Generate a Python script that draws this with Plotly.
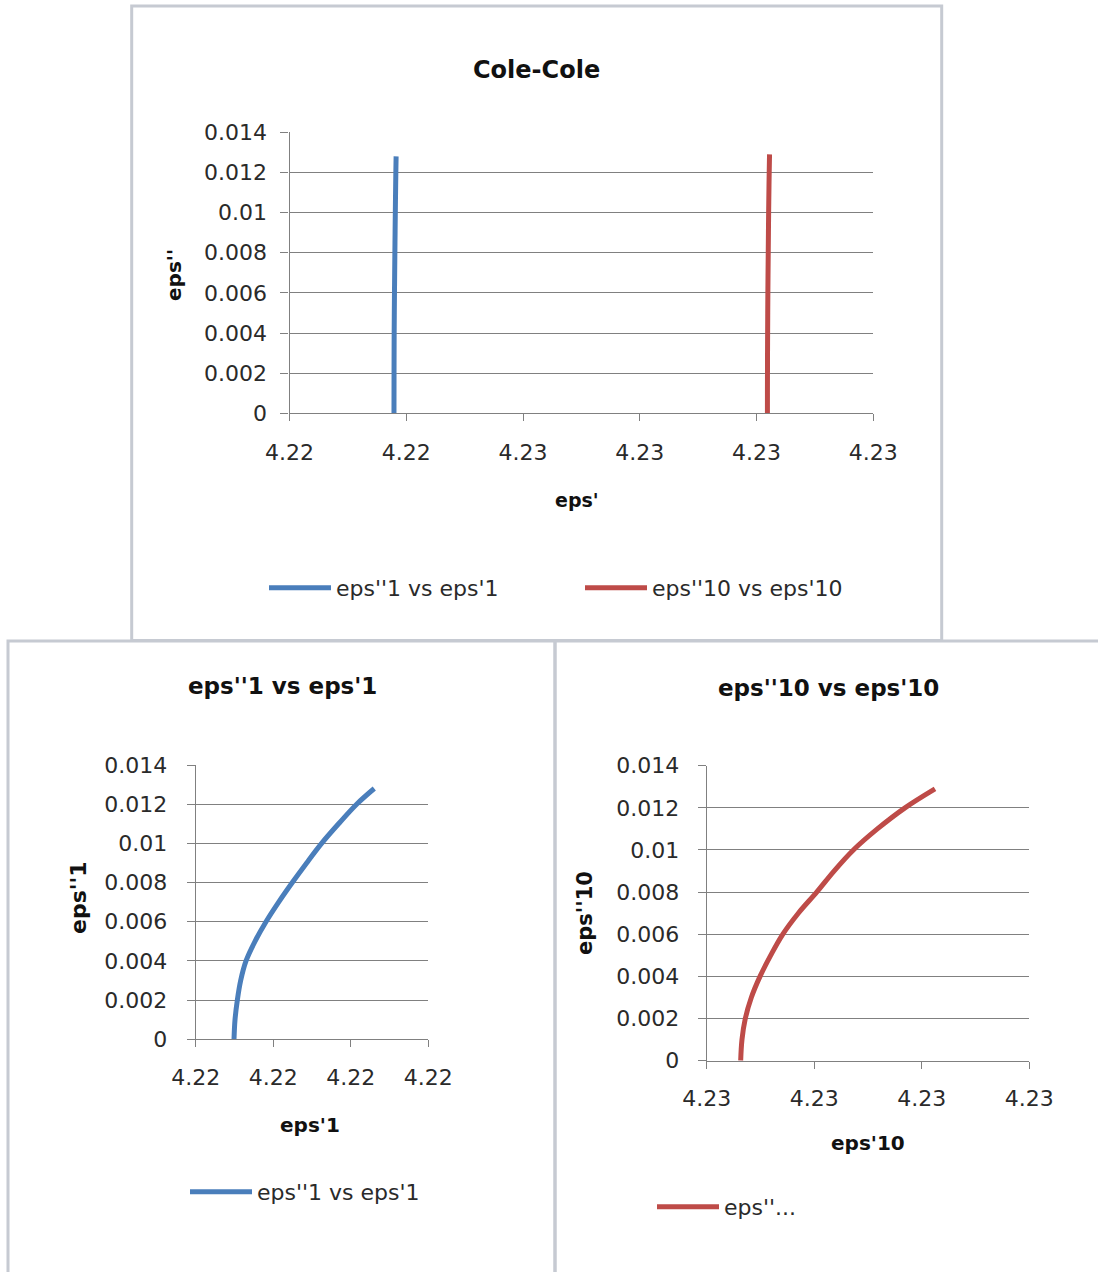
import plotly.graph_objects as go

W, H = 1098, 1272

# ---------------- data ----------------
eps1_re = [4.22389494, 4.22389507, 4.22389537, 4.22389580, 4.22389649, 4.22389765,
           4.22389907, 4.22390070, 4.22390246, 4.22390431, 4.22390624, 4.22390843,
           4.22391076, 4.22391303]
eps1_im = [0.0, 0.001, 0.002, 0.003, 0.004, 0.005, 0.006, 0.007, 0.008, 0.009,
           0.010, 0.011, 0.012, 0.0128]

eps10_re = [4.22709316, 4.22709328, 4.22709359, 4.22709415, 4.22709496, 4.22709595,
            4.22709707, 4.22709852, 4.22710023, 4.22710184, 4.22710364, 4.22710587,
            4.22710844, 4.22711123]
eps10_im = [0.0, 0.001, 0.002, 0.003, 0.004, 0.005, 0.006, 0.007, 0.008, 0.009,
            0.010, 0.011, 0.012, 0.0129]

top_x_ticks = [4.223, 4.224, 4.225, 4.226, 4.227, 4.228]
top_x_labels = ["4.22", "4.22", "4.23", "4.23", "4.23", "4.23"]
bl_x_ticks = [4.22389, 4.22390, 4.22391, 4.22392]
bl_x_labels = ["4.22", "4.22", "4.22", "4.22"]
br_x_ticks = [4.22709, 4.22710, 4.22711, 4.22712]
br_x_labels = ["4.23", "4.23", "4.23", "4.23"]
y_ticks = [0, 0.002, 0.004, 0.006, 0.008, 0.010, 0.012, 0.014]
y_labels = ["0", "0.002", "0.004", "0.006", "0.008", "0.01", "0.012", "0.014"]

name1 = "eps''1 vs eps'1"
name10 = "eps''10 vs eps'10"
name10_short = "eps''..."

# ---------------- style ----------------
BLUE = "#4A7EBB"
RED = "#BE4B48"
GRID = "#808080"
BORDER = "#C6CAD2"
TXT = "#2a2a2a"
FONT = "DejaVu Sans"
TICK_SIZE = 22
LEG_SIZE = 22


def fx(px):
    return px / W


def fy(py):
    return 1 - py / H


fig = go.Figure()

fig.add_trace(go.Scatter(x=eps1_re, y=eps1_im, mode="lines", name=name1,
                         line=dict(color=BLUE, width=5, shape="spline"),
                         xaxis="x", yaxis="y", legend="legend"))
fig.add_trace(go.Scatter(x=eps10_re, y=eps10_im, mode="lines", name=name10,
                         line=dict(color=RED, width=5, shape="spline"),
                         xaxis="x", yaxis="y", legend="legend4"))
fig.add_trace(go.Scatter(x=eps1_re, y=eps1_im, mode="lines", name=name1,
                         line=dict(color=BLUE, width=5, shape="spline"),
                         xaxis="x2", yaxis="y2", legend="legend2"))
fig.add_trace(go.Scatter(x=eps10_re, y=eps10_im, mode="lines", name=name10_short,
                         line=dict(color=RED, width=5, shape="spline"),
                         xaxis="x3", yaxis="y3", legend="legend3"))


def xax(domain, rng, tv, tt, anchor, standoff):
    return dict(domain=domain, range=rng, tickvals=tv, ticktext=tt, anchor=anchor,
                showgrid=False, zeroline=False, showline=True, linecolor=GRID, linewidth=1.3,
                ticks="outside", ticklen=7, tickcolor=GRID, tickwidth=1.3,
                ticklabelstandoff=standoff, automargin=False,
                tickfont=dict(family=FONT, size=TICK_SIZE, color=TXT),
                fixedrange=True)


def yax(domain, anchor, standoff):
    return dict(domain=domain, range=[0, 0.014], tickvals=y_ticks, ticktext=y_labels,
                anchor=anchor, showgrid=True, gridcolor=GRID, gridwidth=1.3,
                zeroline=False, showline=True, linecolor=GRID, linewidth=1.3,
                ticks="outside", ticklen=8, tickcolor=GRID, tickwidth=1.3,
                ticklabelstandoff=standoff, automargin=False,
                tickfont=dict(family=FONT, size=TICK_SIZE, color=TXT), fixedrange=True)


fig.update_layout(
    xaxis=xax([fx(289.5), fx(873.3)], [4.223, 4.228], top_x_ticks, top_x_labels, "y", 12),
    yaxis=yax([fy(413.3), fy(132.3)], "x", 9),
    xaxis2=xax([fx(195.7), fx(428.3)], [4.22389, 4.22392], bl_x_ticks, bl_x_labels, "y2", 11),
    yaxis2=yax([fy(1039.3), fy(765)], "x2", 15),
    xaxis3=xax([fx(706.7), fx(1029.3)], [4.22709, 4.22712], br_x_ticks, br_x_labels, "y3", 11),
    yaxis3=yax([fy(1060.7), fy(765.7)], "x3", 14),
)

legend_common = dict(orientation="h", xanchor="left", yanchor="middle", itemwidth=62,
                     bgcolor="rgba(0,0,0,0)", borderwidth=0,
                     font=dict(family=FONT, size=LEG_SIZE, color=TXT))
fig.update_layout(
    legend=dict(x=fx(264), y=fy(588), **legend_common),
    legend4=dict(x=fx(580), y=fy(588), **legend_common),
    legend2=dict(x=fx(185), y=fy(1192), **legend_common),
    legend3=dict(x=fx(652), y=fy(1207), **legend_common),
)

# chart frames
shapes = []
for (x0, y0, x1, y1) in [(131.7, 6, 941.7, 640.5), (8, 641, 555, 1290), (555, 641, 1110, 1290)]:
    shapes.append(dict(type="rect", xref="paper", yref="paper",
                       x0=fx(x0), x1=fx(x1), y0=fy(y1), y1=fy(y0),
                       line=dict(color=BORDER, width=3), fillcolor="rgba(0,0,0,0)",
                       layer="below"))

annotations = []


def ann(text, px, py, size, angle=0):
    annotations.append(dict(text=f"<b>{text}</b>", x=fx(px), y=fy(py), xref="paper", yref="paper",
                            showarrow=False, xanchor="center", yanchor="middle",
                            textangle=angle, font=dict(family=FONT, size=size, color="#111111")))


ann("Cole-Cole", 536.5, 70, 24)
ann("eps'", 577, 500, 19)
ann("eps''", 174, 275, 20, -90)
ann(name1, 282.3, 686, 23)
ann("eps'1", 310, 1125, 20)
ann("eps''1", 78, 898, 22, -90)
ann(name10, 828, 688, 23)
ann("eps'10", 868, 1143, 20)
ann("eps''10", 585, 913, 21, -90)

fig.update_layout(
    width=W, height=H, autosize=False,
    margin=dict(l=0, r=0, t=0, b=0, pad=0, autoexpand=False),
    paper_bgcolor="white", plot_bgcolor="white",
    shapes=shapes, annotations=annotations,
    showlegend=True,
)

fig.write_html("out.html", config={"displayModeBar": False},
               post_script="document.body.style.margin='0';document.body.style.overflow='hidden';")
